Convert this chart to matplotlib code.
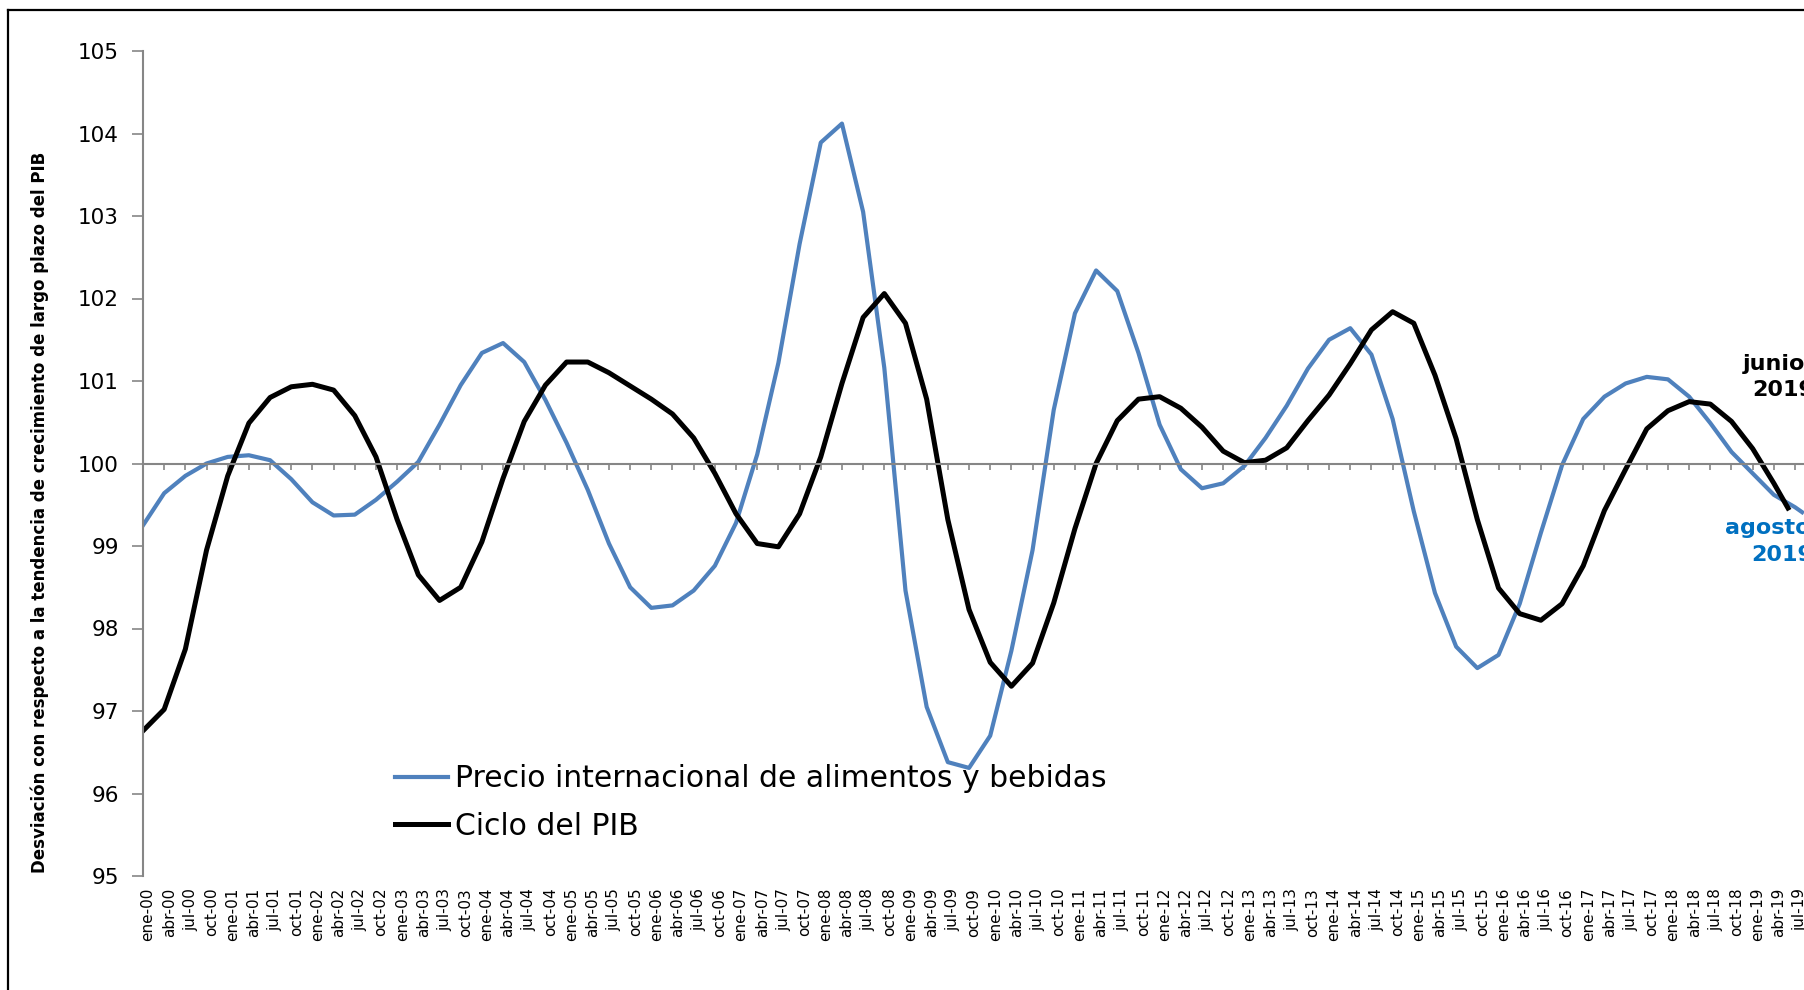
import matplotlib
matplotlib.use("Agg")
import matplotlib.pyplot as plt
import matplotlib.transforms as mtransforms
from matplotlib import font_manager
from matplotlib.lines import Line2D

# Monthly index: 0 = ene-00. Values read roughly every quarter.
precio_meses = list(range(0, 235, 3)) + [235]
precio = [
    99.25, 99.64, 99.85, 100.00,      # 2000
    100.08, 100.10, 100.04, 99.81,    # 2001
    99.53, 99.37, 99.38, 99.56,       # 2002
    99.78, 100.02, 100.47, 100.95,    # 2003
    101.34, 101.46, 101.23, 100.77,   # 2004
    100.25, 99.68, 99.03, 98.50,      # 2005
    98.25, 98.28, 98.46, 98.76,       # 2006
    99.28, 100.11, 101.22, 102.66,    # 2007
    103.89, 104.12, 103.05, 101.16,   # 2008
    98.46, 97.05, 96.38, 96.31,       # 2009
    96.70, 97.73, 98.95, 100.65,      # 2010
    101.82, 102.34, 102.09, 101.34,   # 2011
    100.47, 99.93, 99.70, 99.76,      # 2012
    99.97, 100.31, 100.70, 101.15,    # 2013
    101.50, 101.64, 101.32, 100.54,   # 2014
    99.42, 98.43, 97.78, 97.52,       # 2015
    97.68, 98.30, 99.16, 99.98,       # 2016
    100.54, 100.81, 100.97, 101.05,   # 2017
    101.02, 100.81, 100.49, 100.14,   # 2018
    99.88, 99.62, 99.47, 99.41,       # 2019 (ene, abr, jul, ago)
]

pib_meses = list(range(0, 232, 3)) + [233]
pib = [
    96.76, 97.02, 97.75, 98.95,       # 2000
    99.85, 100.49, 100.80, 100.93,    # 2001
    100.96, 100.89, 100.58, 100.08,   # 2002
    99.32, 98.65, 98.34, 98.50,       # 2003
    99.05, 99.82, 100.51, 100.95,     # 2004
    101.23, 101.23, 101.10, 100.94,   # 2005
    100.78, 100.60, 100.31, 99.88,    # 2006
    99.39, 99.03, 98.99, 99.39,       # 2007
    100.08, 100.97, 101.77, 102.06,   # 2008
    101.70, 100.78, 99.32, 98.23,     # 2009
    97.59, 97.30, 97.58, 98.31,       # 2010
    99.21, 100.00, 100.52, 100.78,    # 2011
    100.81, 100.67, 100.44, 100.15,   # 2012
    100.01, 100.04, 100.19, 100.52,   # 2013
    100.83, 101.21, 101.62, 101.84,   # 2014
    101.70, 101.07, 100.30, 99.32,    # 2015
    98.49, 98.18, 98.10, 98.30,       # 2016
    98.76, 99.43, 99.93, 100.42,      # 2017
    100.64, 100.75, 100.72, 100.51,   # 2018
    100.18, 99.76, 99.46,             # 2019 (ene, abr, jun)
]

meses = ["ene", "abr", "jul", "oct"]
tick_meses = list(range(0, 235, 3))
tick_labels = [f"{meses[(m // 3) % 4]}-{m // 12:02d}" for m in tick_meses]

AZUL = "#4F81BD"
AZUL_TXT = "#0070C0"
GRIS = "#868686"

installed = {f.name for f in font_manager.fontManager.ttflist}
if "Liberation Sans Narrow" in installed:
    narrow, xt_size, yl_size = ["Liberation Sans Narrow"], 14, 16
else:
    narrow, xt_size, yl_size = ["DejaVu Sans"], 11, 12

W, H = 1804, 990
fig = plt.figure(figsize=(W / 100, H / 100), dpi=100)
ax = fig.add_axes([143 / W, (H - 876) / H, 236 * 7.06 / W, 825 / H])

l1, = ax.plot(precio_meses, precio, color=AZUL, lw=3.0,
              solid_joinstyle="round", label="Precio internacional de alimentos y bebidas")
l2, = ax.plot(pib_meses, pib, color="black", lw=3.6,
              solid_joinstyle="round", label="Ciclo del PIB")

ax.set_xlim(0, 236)
ax.set_ylim(95, 105)
ax.set_yticks(range(95, 106))
ax.tick_params(axis="y", direction="out", length=8, width=1.2, color=GRIS,
               pad=9.5, labelsize=15.5, labelcolor="black")

# category axis crosses at 100, labels stay low
for s in ["top", "right"]:
    ax.spines[s].set_visible(False)
ax.spines["bottom"].set_position(("data", 100))
for s in ["bottom", "left"]:
    ax.spines[s].set_color(GRIS)
    ax.spines[s].set_linewidth(1.5)
ax.set_xticks(tick_meses)
ax.tick_params(axis="x", direction="out", length=4, width=1.2, color=GRIS,
               labelbottom=False)

sec = ax.secondary_xaxis("bottom")
sec.spines["bottom"].set_visible(False)
sec.set_xticks(tick_meses, tick_labels)
sec.tick_params(axis="x", length=0, pad=8.5, rotation=90)
offset = mtransforms.ScaledTranslation(5 / 100, 0, fig.dpi_scale_trans)
for lab in sec.get_xticklabels():
    lab.set_fontfamily(narrow + ["DejaVu Sans"])
    lab.set_fontsize(xt_size)
    lab.set_transform(lab.get_transform() + offset)

fig.text(40 / W, 1 - 512 / H,
         "Desviación con respecto a la tendencia de crecimiento de largo plazo del PIB",
         rotation=90, ha="center", va="center", fontsize=yl_size,
         fontweight="bold", family=narrow + ["DejaVu Sans"])

ax.legend(handles=[l1, l2], loc="upper left",
          bbox_to_anchor=(395 / W, 1 - 764 / H), bbox_transform=fig.transFigure,
          frameon=False, fontsize=21.5, handlelength=1.77, handletextpad=0.23,
          labelspacing=0.62, borderpad=0, borderaxespad=0)

fig.text(1743 / W, 1 - 364 / H, "junio", ha="left", va="center",
         fontsize=16, fontweight="bold", color="black")
fig.text(1752 / W, 1 - 390 / H, "2019", ha="left", va="center",
         fontsize=16, fontweight="bold", color="black")
fig.text(1725 / W, 1 - 528 / H, "agosto", ha="left", va="center",
         fontsize=16, fontweight="bold", color=AZUL_TXT)
fig.text(1751 / W, 1 - 555 / H, "2019", ha="left", va="center",
         fontsize=16, fontweight="bold", color=AZUL_TXT)

# outer chart frame (cropped at right and bottom)
fig.add_artist(Line2D([8 / W, 8 / W], [0, 1 - 10 / H], transform=fig.transFigure,
                      color="black", lw=1.6))
fig.add_artist(Line2D([8 / W, 1], [1 - 10 / H, 1 - 10 / H], transform=fig.transFigure,
                      color="black", lw=1.6))

fig.savefig("out.png", dpi=100)
